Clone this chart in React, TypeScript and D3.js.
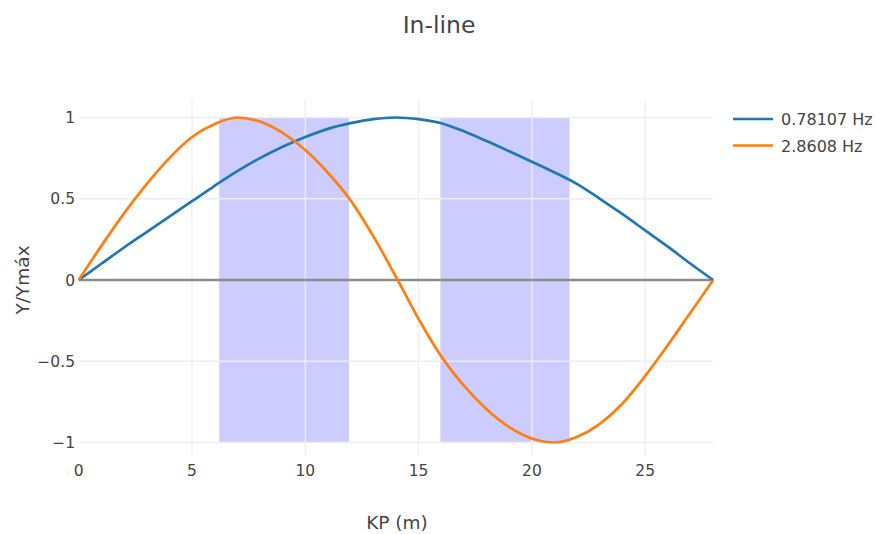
import React, { useRef, useEffect } from 'react';
import * as d3 from 'd3';

// KP positions (m) and normalised mode shapes
const kp = [0, 1, 2, 3, 4, 5, 6, 7, 8, 9, 10, 11, 12, 13, 14, 15, 16, 17, 18, 19, 20, 21, 22, 23, 24, 25, 26, 27, 28];
const mode1 = [0, 0.10, 0.20, 0.295, 0.39, 0.485, 0.58, 0.67, 0.75, 0.82, 0.88, 0.93, 0.965, 0.99, 1.0, 0.99, 0.965, 0.915, 0.855, 0.792, 0.728, 0.662, 0.59, 0.50, 0.405, 0.305, 0.205, 0.10, 0];
const mode2 = [0, 0.21, 0.41, 0.59, 0.75, 0.88, 0.96, 1.0, 0.975, 0.905, 0.80, 0.66, 0.49, 0.27, 0.02, -0.24, -0.47, -0.65, -0.795, -0.905, -0.975, -1.0, -0.965, -0.885, -0.76, -0.59, -0.40, -0.20, 0];
const seriesNames = ['0.78107 Hz', '2.8608 Hz'];
const seriesColors = ['#1f77b4', '#ff7f0e'];

// shaded spans along the pipe
const spanStart = [6.2, 15.96];
const spanEnd = [11.93, 21.66];

const xTicks = [0, 5, 10, 15, 20, 25];
const yTicks = [-1, -0.5, 0, 0.5, 1];

const App = () => {
  const svgRef = useRef<SVGSVGElement>(null);
  const width = 879;
  const height = 534;

  useEffect(() => {
    const svg = d3.select(svgRef.current);
    svg.selectAll('*').remove();

    const font = '"DejaVu Sans", Verdana, sans-serif';
    const textColor = '#444';

    const x = d3.scaleLinear().domain([0, 28]).range([78.7, 713.2]);
    const y = d3.scaleLinear().domain([-1, 1]).range([442.5, 117.5]);
    const plotTop = 100;
    const plotBottom = 455;

    // shaded spans
    svg.append('g')
      .selectAll('rect')
      .data(spanStart.map((s, i) => ({ s, e: spanEnd[i] })))
      .join('rect')
      .attr('x', d => x(d.s))
      .attr('y', y(1))
      .attr('width', d => x(d.e) - x(d.s))
      .attr('height', y(-1) - y(1))
      .attr('fill', 'rgb(204, 204, 255)');

    // grid
    const grid = svg.append('g');
    grid.selectAll('.gx')
      .data(xTicks.filter(t => t !== 0))
      .join('line')
      .attr('x1', d => x(d)).attr('x2', d => x(d))
      .attr('y1', plotTop).attr('y2', plotBottom)
      .attr('stroke', '#eee')
      .attr('stroke-width', 1.4);
    grid.selectAll('.gy')
      .data(yTicks.filter(t => t !== 0))
      .join('line')
      .attr('x1', x(0)).attr('x2', x(28))
      .attr('y1', d => y(d)).attr('y2', d => y(d))
      .attr('stroke', '#eee')
      .attr('stroke-width', 1.4);

    // zero line
    svg.append('line')
      .attr('x1', x(0)).attr('x2', x(28))
      .attr('y1', y(0)).attr('y2', y(0))
      .attr('stroke', '#8c8c8c')
      .attr('stroke-width', 2.7);

    // curves
    const line = d3.line<number>()
      .x((_, i) => x(kp[i]))
      .y(d => y(d))
      .curve(d3.curveMonotoneX);
    [mode1, mode2].forEach((m, i) => {
      svg.append('path')
        .datum(m)
        .attr('d', line)
        .attr('fill', 'none')
        .attr('stroke', seriesColors[i])
        .attr('stroke-width', 2.7)
        .attr('stroke-linejoin', 'round');
    });

    // tick labels
    svg.append('g')
      .selectAll('text')
      .data(xTicks)
      .join('text')
      .attr('x', d => x(d))
      .attr('y', 476)
      .attr('text-anchor', 'middle')
      .attr('font-family', font)
      .attr('font-size', 15.5)
      .attr('fill', textColor)
      .text(d => d);

    svg.append('g')
      .selectAll('text')
      .data(yTicks)
      .join('text')
      .attr('x', 75)
      .attr('y', d => y(d) + 5.5)
      .attr('text-anchor', 'end')
      .attr('font-family', font)
      .attr('font-size', 15.5)
      .attr('fill', textColor)
      .text(d => (d < 0 ? '\u2212' + Math.abs(d) : String(d)));

    // axis titles
    svg.append('text')
      .attr('x', 397)
      .attr('y', 529)
      .attr('text-anchor', 'middle')
      .attr('font-family', font)
      .attr('font-size', 18.5)
      .attr('fill', textColor)
      .text('KP (m)');

    svg.append('text')
      .attr('transform', `translate(29, ${y(0)}) rotate(-90)`)
      .attr('text-anchor', 'middle')
      .attr('font-family', font)
      .attr('font-size', 18.5)
      .attr('fill', textColor)
      .text('Y/Ymáx');

    // title
    svg.append('text')
      .attr('x', 439)
      .attr('y', 33)
      .attr('text-anchor', 'middle')
      .attr('font-family', font)
      .attr('font-size', 23.5)
      .attr('fill', textColor)
      .text('In-line');

    // legend
    const legend = svg.append('g');
    seriesNames.forEach((name, i) => {
      const ly = 119 + i * 26.5;
      legend.append('line')
        .attr('x1', 733).attr('x2', 773)
        .attr('y1', ly).attr('y2', ly)
        .attr('stroke', seriesColors[i])
        .attr('stroke-width', 2.7);
      legend.append('text')
        .attr('x', 781)
        .attr('y', ly + 6)
        .attr('font-family', font)
        .attr('font-size', 16)
        .attr('fill', textColor)
        .text(name);
    });
  }, []);

  return (
    <div style={{ position: 'absolute', left: 0, top: 0 }}>
      <svg ref={svgRef} width={width} height={height} style={{ display: 'block', background: '#fff' }}></svg>
    </div>
  );
};

export default App;
